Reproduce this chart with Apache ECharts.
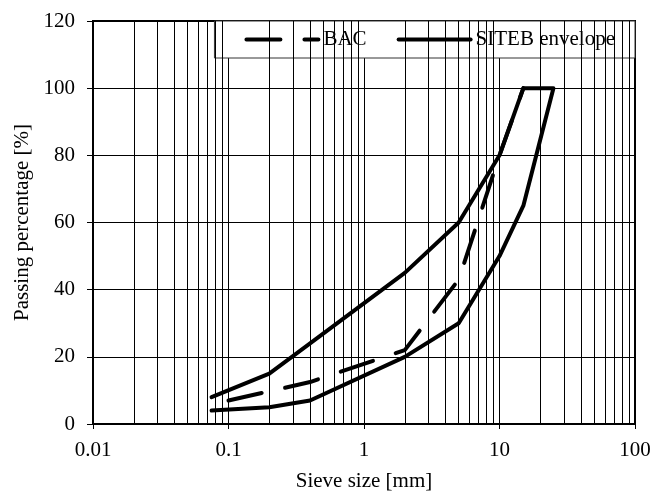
<!DOCTYPE html>
<html><head><meta charset="utf-8">
<script src="https://cdn.jsdelivr.net/npm/echarts@6/dist/echarts.min.js"></script>
<style>html,body{margin:0;padding:0;background:#fff}#c{width:652px;height:493px}</style>
</head><body><div id="c"></div>
<script>
// Data
const bacX = [0.1, 0.4, 2, 5, 10, 15];
const bacY = [7, 12.5, 22, 43, 80, 100];
const upperX = [0.075, 0.2, 0.4, 2, 5, 10, 15];
const upperY = [8, 15, 24, 45, 60, 80, 100];
const lowerX = [25, 15, 10, 5, 2, 0.4, 0.2, 0.075];
const lowerY = [100, 65, 50, 30, 20, 7, 5, 4];
const decades = [0.01, 0.1, 1, 10];
const minorMultipliers = [2, 3, 4, 5, 6, 7, 8, 9];
const seriesNames = ['BAC', 'SITEB envelope'];

const FONT = 'Liberation Serif';
const FS = 21;
const zip = (xs, ys) => xs.map((x, i) => [x, ys[i]]);
const minorLines = [];
decades.forEach(d => minorMultipliers.forEach(m => minorLines.push({ xAxis: +(d * m).toPrecision(3) })));

const chart = echarts.init(document.getElementById('c'), null, { renderer: 'canvas' });
chart.setOption({
  animation: false,
  backgroundColor: '#fff',
  textStyle: { fontFamily: FONT, color: '#000' },
  grid: { left: 93, right: 17, top: 21, bottom: 69, containLabel: false, outerBoundsMode: 'none',
    show: true, borderColor: '#000', borderWidth: 2, backgroundColor: 'transparent' },
  legend: {
    data: seriesNames,
    right: 17, top: 21,
    padding: [8, 20, 8, 30],
    itemGap: 30,
    itemWidth: 72, itemHeight: 14,
    backgroundColor: '#fff',
    borderColor: '#333', borderWidth: 1,
    textStyle: { fontFamily: FONT, fontSize: FS, color: '#000' },
    lineStyle: { width: 4 },
    itemStyle: { opacity: 0 }
  },
  xAxis: {
    type: 'log', logBase: 10, min: 0.01, max: 100,
    name: 'Sieve size [mm]', nameLocation: 'middle', nameGap: 47,
    nameTextStyle: { fontFamily: FONT, fontSize: FS, color: '#000' },
    axisLine: { lineStyle: { color: '#000', width: 2 } },
    axisTick: { show: true, inside: false, length: 5, lineStyle: { color: '#000', width: 1 } },
    axisLabel: { fontFamily: FONT, fontSize: FS, color: '#000', margin: 16,
      formatter: v => String(+v.toPrecision(3)) },
    splitLine: { show: true, lineStyle: { color: '#000', width: 1 } },
    minorTick: { show: false }, minorSplitLine: { show: false }
  },
  yAxis: {
    type: 'value', min: 0, max: 120, interval: 20,
    name: 'Passing percentage [%]', nameLocation: 'middle', nameGap: 59, nameRotate: 90,
    nameTextStyle: { fontFamily: FONT, fontSize: FS, color: '#000' },
    axisLine: { show: true, lineStyle: { color: '#000', width: 2 } },
    axisTick: { show: true, inside: false, length: 6, lineStyle: { color: '#000', width: 1 } },
    axisLabel: { fontFamily: FONT, fontSize: FS, color: '#000', margin: 18 },
    splitLine: { show: true, lineStyle: { color: '#000', width: 1 } }
  },
  series: [
    {
      name: 'minor', type: 'line', data: [], z: 1, silent: true,
      markLine: { silent: true, symbol: ['none', 'none'], label: { show: false },
        lineStyle: { color: '#000', width: 1, type: 'solid' }, emphasis: { disabled: true },
        data: minorLines, animation: false }
    },
    {
      name: seriesNames[0], type: 'line', data: zip(bacX, bacY), z: 3,
      showSymbol: false, symbol: 'none',
      lineStyle: { color: '#000', width: 4, type: [34, 24], cap: 'round', join: 'round' },
      itemStyle: { color: '#000' }
    },
    {
      name: seriesNames[1], type: 'line', data: zip(upperX, upperY).concat(zip(lowerX, lowerY)), z: 3,
      showSymbol: false, symbol: 'none',
      lineStyle: { color: '#000', width: 4, type: 'solid', cap: 'round', join: 'round' },
      itemStyle: { color: '#000' }
    }
  ]
});
</script></body></html>
